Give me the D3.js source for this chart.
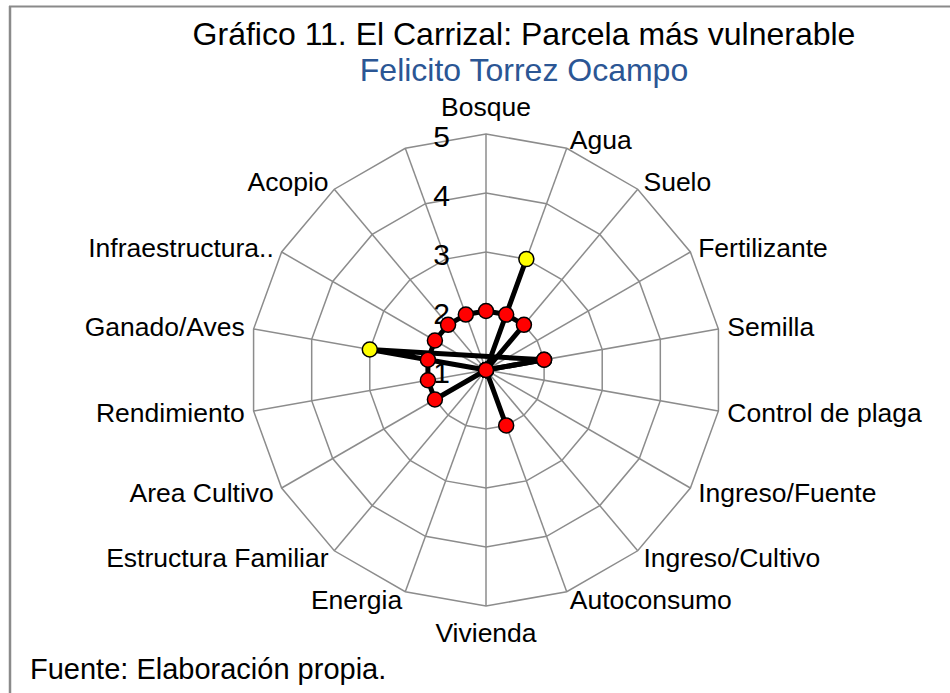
<!DOCTYPE html>
<html>
<head>
<meta charset="utf-8">
<script src="https://cdn.jsdelivr.net/npm/d3@7"></script>
<style>
  html, body { margin: 0; padding: 0; background: #fff; }
  svg { display: block; font-family: 'Liberation Sans', Arial, sans-serif; }
</style>
</head>
<body>
<svg id="chart" width="950" height="693"></svg>
<script>
// categories, clockwise from the top (last spoke has no label)
const categories = ['Bosque', 'Agua', 'Suelo', 'Fertilizante', 'Semilla', 'Control de plaga',
  'Ingreso/Fuente', 'Ingreso/Cultivo', 'Autoconsumo', 'Vivienda', 'Energia', 'Estructura Familiar',
  'Area Cultivo', 'Rendimiento', 'Ganado/Aves', 'Infraestructura..', 'Acopio', ''];

// red series
const parcela = [2, 2, 2, 1, 2, 1, 1, 1, 2, 1, 1, 1, 2, 2, 2, 2, 2, 2];
// yellow series (empty cells are skipped and the line joins the neighbours)
const critico = [null, 3, null, 1, 2, null, null, null, null, null, null, null, null, null, 3, 1, null, null];

const ticks = [1, 2, 3, 4, 5];
const rings = [2, 3, 4, 5];

const title = 'Gráfico 11. El Carrizal: Parcela más vulnerable';
const subtitle = 'Felicito Torrez Ocampo';
const source = 'Fuente: Elaboración propia.';

const cx = 486, cy = 370, radius = 236;

const svg = d3.select('#chart');

// frame (only top and left edges are visible)
svg.append('line').attr('x1', 9).attr('x2', 950).attr('y1', 6.5).attr('y2', 6.5)
  .attr('stroke', '#8a8a8a').attr('stroke-width', 2);
svg.append('line').attr('x1', 10).attr('x2', 10).attr('y1', 6).attr('y2', 693)
  .attr('stroke', '#8a8a8a').attr('stroke-width', 2.5);

svg.append('text').attr('x', 524).attr('y', 45).attr('text-anchor', 'middle')
  .attr('font-size', 32).attr('fill', '#000').text(title);
svg.append('text').attr('x', 524).attr('y', 81).attr('text-anchor', 'middle')
  .attr('font-size', 32).attr('fill', '#2b5694').text(subtitle);
svg.append('text').attr('x', 30).attr('y', 679)
  .attr('font-size', 29).attr('fill', '#000').text(source);

const g = svg.append('g').attr('transform', 'translate(' + cx + ',' + cy + ')');

const angle = d3.scaleLinear().domain([0, categories.length]).range([0, 2 * Math.PI]);
const r = d3.scaleLinear().domain([1, 5]).range([0, radius]);

// rings
const ringLine = d3.lineRadial()
  .angle((d, i) => angle(i))
  .radius(d => r(d))
  .curve(d3.curveLinearClosed);

g.selectAll('.ring')
  .data(rings)
  .join('path')
  .attr('class', 'ring')
  .attr('d', v => ringLine(categories.map(() => v)))
  .attr('fill', 'none')
  .attr('stroke', '#8c8c8c')
  .attr('stroke-width', 1.5);

// spokes
g.selectAll('.spoke')
  .data(categories)
  .join('line')
  .attr('class', 'spoke')
  .attr('x1', 0).attr('y1', 0)
  .attr('x2', (d, i) => d3.pointRadial(angle(i), r(5))[0])
  .attr('y2', (d, i) => d3.pointRadial(angle(i), r(5))[1])
  .attr('stroke', '#8c8c8c')
  .attr('stroke-width', 1.5);

// category labels
const labelR = radius + 9;
g.selectAll('.cat')
  .data(categories)
  .join('text')
  .attr('class', 'cat')
  .attr('font-size', 26.5)
  .attr('fill', '#000')
  .each(function (d, i) {
    const a = angle(i);
    const p = d3.pointRadial(a, labelR);
    const s = Math.sin(a), c = Math.cos(a);
    let anchor = 'middle', y = p[1];
    if (s > 0.01) anchor = 'start';
    else if (s < -0.01) anchor = 'end';
    if (Math.abs(s) <= 0.01) y += c > 0 ? -18 : 18;
    d3.select(this)
      .attr('x', p[0]).attr('y', y)
      .attr('text-anchor', anchor)
      .attr('dominant-baseline', 'central')
      .text(d);
  });

// value axis labels
g.selectAll('.tick')
  .data(ticks)
  .join('text')
  .attr('class', 'tick')
  .attr('x', -36)
  .attr('y', d => -r(d) + 2)
  .attr('text-anchor', 'end')
  .attr('dominant-baseline', 'central')
  .attr('font-size', 30)
  .attr('fill', '#000')
  .text(d => d);

const seriesList = [
  { values: critico, color: '#ffff00' },
  { values: parcela, color: '#ff0000' }
];

const seriesLine = d3.lineRadial()
  .angle(d => angle(d.i))
  .radius(d => r(d.v))
  .curve(d3.curveLinearClosed);

seriesList.forEach(s => {
  const pts = s.values.map((v, i) => ({ i: i, v: v })).filter(d => d.v != null);
  g.append('path')
    .datum(pts)
    .attr('d', seriesLine)
    .attr('fill', 'none')
    .attr('stroke', '#000')
    .attr('stroke-width', 5)
    .attr('stroke-linejoin', 'round');
  g.append('g')
    .selectAll('circle')
    .data(pts)
    .join('circle')
    .attr('cx', d => d3.pointRadial(angle(d.i), r(d.v))[0])
    .attr('cy', d => d3.pointRadial(angle(d.i), r(d.v))[1])
    .attr('r', 7.5)
    .attr('fill', s.color)
    .attr('stroke', '#000')
    .attr('stroke-width', 1.5);
});
</script>
</body>
</html>
